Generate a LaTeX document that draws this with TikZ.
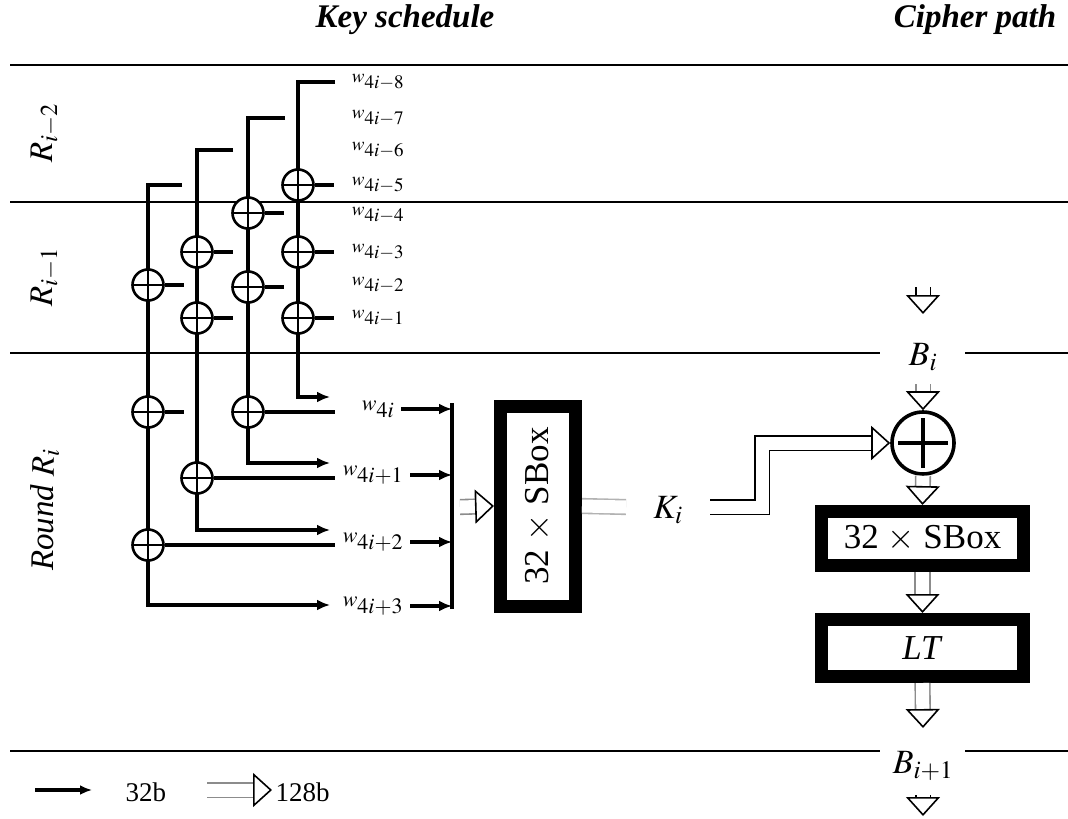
\documentclass[tikz,border=0pt]{standalone}
\usepackage{mathptmx}
\usepackage[no-math]{fontspec}
\setmainfont{Liberation Serif}
\usetikzlibrary{arrows.meta}

\begin{document}
\begin{tikzpicture}[x=1pt,y=-1pt,line join=miter,
  wire/.style={line width=4.5pt},
  wirearr/.style={wire,-{Latex[length=13pt,width=11pt]}},
  sepline/.style={line width=2pt},
  xorw/.style={circle,draw,fill=white,line width=2.6pt,minimum size=31pt,inner sep=0pt,
    path picture={\draw[line width=2.6pt] (path picture bounding box.north) -- (path picture bounding box.south)
      (path picture bounding box.west) -- (path picture bounding box.east);}},
  xorbig/.style={circle,draw,fill=white,line width=3.6pt,minimum size=62pt,inner sep=0pt,
    path picture={\draw[line width=3.6pt] ([yshift=-6pt]path picture bounding box.north) -- ([yshift=6pt]path picture bounding box.south)
      ([xshift=6pt]path picture bounding box.west) -- ([xshift=-6pt]path picture bounding box.east);}},
  fat/.style={double=white,double distance=13pt,line width=1.6pt,
    -{Triangle[open,length=19pt,width=34pt,line width=1.6pt,fill=white,color=black]}},
  fatplain/.style={double=white,double distance=13pt,line width=1.6pt},
  faint/.style={draw=black!45},
  sboxbox/.style={draw,line width=13pt,inner sep=0pt,font=\fontsize{35}{38}\selectfont},
  title/.style={font=\fontsize{33}{36}\selectfont\bfseries\itshape},
  rlab/.style={rotate=90,font=\fontsize{33}{36}\selectfont},
  wlab/.style={font=\fontsize{19}{22}\selectfont,inner sep=1pt},
  wbig/.style={font=\fontsize{22}{24}\selectfont,inner sep=1pt},
  blab/.style={font=\fontsize{34}{36}\selectfont},
  leg/.style={font=\fontsize{27}{30}\selectfont,anchor=west}]
\useasboundingbox (0,0) rectangle (1068,819);

% titles and round labels
\node[title] (tks) at (405,20) {Key schedule};
\node[title] (tcp) at (975,20) {Cipher path};
\node[rlab] (r2) at (45,133) {$R_{i-2}$};
\node[rlab] (r1) at (45,277) {$R_{i-1}$};
\node[rlab] (r0) at (45,510) {\textit{Round} $R_i$};

% round separators
\draw[sepline] (10,65) -- (1068,65);
\draw[sepline] (10,202) -- (1068,202);
\draw[sepline] (10,353) -- (880,353);
\draw[sepline] (965,353) -- (1068,353);
\draw[sepline] (10,751) -- (880,751);
\draw[sepline] (965,751) -- (1068,751);

% key words of the previous rounds
\foreach \k/\y in {8/82,7/118,6/150,5/185,4/215,3/252,2/285,1/318}
  \node[wlab] (w\k) at (378,\y) {$w_{\textstyle 4i{-}\k}$};

% the four columns
\draw[wirearr] (335,82) -- (298,82) -- (298,397) -- (330,397);
\draw[wirearr] (285,118) -- (248,118) -- (248,463) -- (330,463);
\draw[wirearr] (233,150) -- (197,150) -- (197,530) -- (330,530);
\draw[wirearr] (182,185) -- (148,185) -- (148,605) -- (330,605);

% xor gates
\node[xorw] (c4a) at (298,185) {};
\node[xorw] (c4b) at (298,252) {};
\node[xorw] (c4c) at (298,318) {};
\node[xorw] (c3a) at (248,213) {};
\node[xorw] (c3b) at (248,287) {};
\node[xorw] (c3c) at (248,412) {};
\node[xorw] (c2a) at (197,252) {};
\node[xorw] (c2b) at (197,318) {};
\node[xorw] (c2c) at (197,478) {};
\node[xorw] (c1a) at (148,285) {};
\node[xorw] (c1b) at (148,412) {};
\node[xorw] (c1c) at (148,545) {};
\foreach \g in {c4a,c4b,c4c,c3a,c3b,c2a,c2b,c1a,c1b}
  \draw[wire] (\g.east) -- ++(19,0);
\draw[wire] (c3c.east) -- ++(70,0);
\draw[wire] (c2c.east) -- ++(121,0);
\draw[wire] (c1c.east) -- ++(170,0);

% words of round i
\node[wbig] (v0) at (378,409) {$w_{\textstyle 4i}$};
\node[wbig] (v1) at (373,475) {$w_{\textstyle 4i{+}1}$};
\node[wbig] (v2) at (373,542) {$w_{\textstyle 4i{+}2}$};
\node[wbig] (v3) at (373,606) {$w_{\textstyle 4i{+}3}$};
\coordinate (bus) at (452,507);
\foreach \v in {v0,v1,v2,v3}
  \draw[wirearr,line width=3.5pt] ([xshift=6pt]\v.east |- \v.center) -- (\v.center -| bus);
\draw[wire] (452,403) -- (452,609);

% sbox of the key schedule
\node[sboxbox,minimum width=75pt,minimum height=200pt] (ksbox) at (538,506) {\rotatebox{90}{32 $\times$ SBox}};
\coordinate (kin) at (460,507);
\draw[fat,faint] (kin) -- (ksbox.west);
\coordinate (kout) at (626,507);
\draw[fatplain,draw=black!30] (ksbox.east) -- (kout);
\node[blab] (ki) at (668,510) {$K_i$};

% cipher path
\node[blab] (bi) at (923,357) {$B_i$};
\node[xorbig] (xorc) at (923,443) {};
\node[sboxbox,minimum width=202pt,minimum height=54pt] (csbox) at (922.5,538.5) {32 $\times$ SBox};
\node[sboxbox,minimum width=202pt,minimum height=57pt] (lt) at (922.5,648) {\textit{LT}};
\node[blab] (bn) at (923,766) {$B_{i+1}$};
\coordinate (kst) at (710,507);
\coordinate (kbend) at (762,507);
\coordinate (btop) at (923,287);
\coordinate (btip) at (923,314);
\coordinate (bi2) at (923,384);
\coordinate (lto) at (923,728);
\coordinate (bnt) at (923,795);
\coordinate (bbot) at (923,816);
\draw[fat] (kst) -- (kbend) |- (xorc.west);
\draw[fat] (btop) -- (btip);
\draw[fat,faint] (bi2) -- (xorc.north);
\draw[fat,faint] (xorc.south) -- (csbox.north);
\draw[fat,faint] (csbox.south) -- (lt.north);
\draw[fat,faint] (lt.south) -- (lto);
\draw[fat] (bnt) -- (bbot);

% legend
\coordinate (la) at (35,790);
\coordinate (lb) at (92,790);
\draw[wire,line width=3.5pt,-{Latex[length=12pt,width=10pt]}] (la) -- (lb);
\node[leg] (l32) at (122,792) {32b};
\coordinate (lc) at (207,790);
\coordinate (ld) at (272,790);
\draw[fat,faint] (lc) -- (ld);
\node[leg] (l128) at (272,792) {128b};
\end{tikzpicture}
\end{document}
